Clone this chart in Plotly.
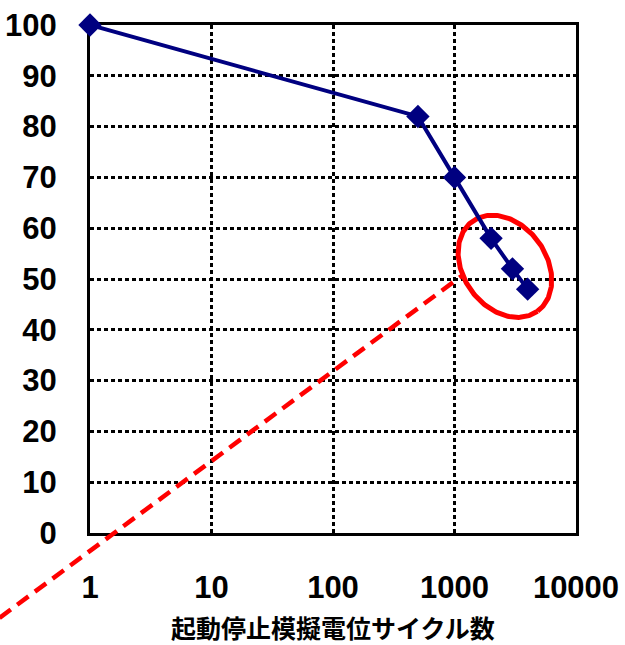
import numpy as np
import plotly.graph_objects as go

# ---- data -------------------------------------------------------------
cycles = [1, 500, 1000, 2000, 3000, 4000]
retention = [100, 82, 70, 58, 52, 48]

# dashed extrapolation line (cycles, %)
trend_cycles = [0.18, 1175]
trend_pct = [-16.7, 50.8]

# highlighted region around the last three measurements
highlight_center = (2600, 52.5)

x_ticks = [1, 10, 100, 1000, 10000]
x_tick_text = ["1", "10", "100", "1000", "10000"]
y_ticks = list(range(0, 101, 10))
x_title = "起動停止模擬電位サイクル数"

# ---- geometry ---------------------------------------------------------
W, H = 625, 645
plot_left, plot_right = 90, 576      # px
plot_top, plot_bottom = 25, 533      # px
x_log_range = [0, 4]
y_range = [0, 100]

dom_x = [plot_left / W, plot_right / W]
dom_y = [(H - plot_bottom) / H, (H - plot_top) / H]

px_per_dec = (plot_right - plot_left) / (x_log_range[1] - x_log_range[0])
px_per_unit = (plot_bottom - plot_top) / (y_range[1] - y_range[0])

# full-figure axes with the same scale, so annotations can leave the plot box
full_x_range = [x_log_range[0] - plot_left / px_per_dec,
                x_log_range[0] + (W - plot_left) / px_per_dec]
full_y_range = [y_range[0] - (H - plot_bottom) / px_per_unit,
                y_range[0] + plot_bottom / px_per_unit]

# ellipse (pixel size / tilt)
ell_a, ell_b, ell_tilt = 55.5, 41.5, np.deg2rad(54)
t = np.linspace(0, 2 * np.pi, 241)
dx_px = ell_a * np.cos(t) * np.cos(ell_tilt) - ell_b * np.sin(t) * np.sin(ell_tilt)
dy_px = ell_a * np.cos(t) * np.sin(ell_tilt) + ell_b * np.sin(t) * np.cos(ell_tilt)
ell_x = 10 ** (np.log10(highlight_center[0]) + dx_px / px_per_dec)
ell_y = highlight_center[1] - dy_px / px_per_unit

NAVY = "#000080"
RED = "#ff0000"
tick_font = dict(family="Liberation Sans, Arial, sans-serif", size=31,
                 color="black", weight="bold")

fig = go.Figure()

# layer 1: grid axes (series registered without drawing anything)
fig.add_trace(go.Scatter(
    x=cycles, y=retention, xaxis="x", yaxis="y", mode="none",
    hoverinfo="skip", showlegend=False))

# layer 2: red annotations on the full-figure axes
fig.add_trace(go.Scatter(
    x=trend_cycles, y=trend_pct, xaxis="x2", yaxis="y2", mode="lines",
    line=dict(color=RED, width=4.5, dash="14px,8px"), hoverinfo="skip",
    showlegend=False))
fig.add_trace(go.Scatter(
    x=ell_x, y=ell_y, xaxis="x2", yaxis="y2", mode="lines",
    line=dict(color=RED, width=5), hoverinfo="skip", showlegend=False))

# layer 3: the measured series
fig.add_trace(go.Scatter(
    x=cycles, y=retention, xaxis="x3", yaxis="y3", mode="lines+markers",
    line=dict(color=NAVY, width=4),
    marker=dict(symbol="diamond", size=18, color=NAVY, line=dict(width=0)),
    cliponaxis=False, showlegend=False))

grid = dict(showgrid=True, gridcolor="black", gridwidth=2.5, griddash="4px,3px",
            showline=True, linecolor="black", linewidth=3, mirror=True,
            zeroline=False, ticks="", tickfont=tick_font, fixedrange=True,
            automargin=False)

hidden = dict(visible=False, showgrid=False, zeroline=False, fixedrange=True,
              automargin=False)

fig.update_layout(
    width=W, height=H,
    margin=dict(l=0, r=0, t=0, b=0),
    paper_bgcolor="white",
    plot_bgcolor="rgba(0,0,0,0)",
    showlegend=False,
    xaxis=dict(type="log", range=x_log_range, domain=dom_x, anchor="y",
               tickvals=x_ticks, ticktext=x_tick_text, ticklabelstandoff=25,
               title=dict(text=x_title, standoff=23,
                          font=dict(family="Noto Sans CJK JP", size=25,
                                    color="black", weight="bold")),
               **grid),
    yaxis=dict(range=y_range, domain=dom_y, anchor="x", tickvals=y_ticks,
               ticklabelstandoff=24, **grid),
    xaxis2=dict(type="log", range=full_x_range, domain=[0, 1], anchor="y2", **hidden),
    yaxis2=dict(range=full_y_range, domain=[0, 1], anchor="x2", **hidden),
    xaxis3=dict(type="log", range=x_log_range, domain=dom_x, anchor="y3", **hidden),
    yaxis3=dict(range=y_range, domain=dom_y, anchor="x3", **hidden),
)

fig.write_html("out.html")
